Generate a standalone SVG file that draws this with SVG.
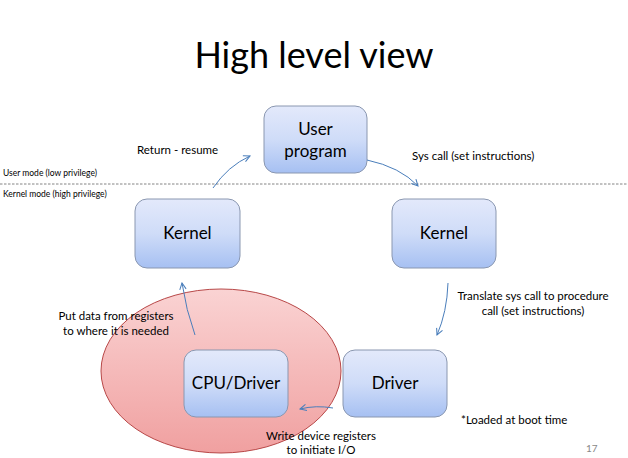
<svg xmlns="http://www.w3.org/2000/svg" width="628" height="458" viewBox="0 0 628 458">
<defs>
<linearGradient id="bx" x1="0" y1="0" x2="0" y2="1"><stop offset="0" stop-color="#e3e9fb"/><stop offset="0.5" stop-color="#cfdcf8"/><stop offset="1" stop-color="#a6c0f2"/></linearGradient>
<linearGradient id="el" x1="0" y1="0" x2="0" y2="1"><stop offset="0" stop-color="#fad3d3"/><stop offset="1" stop-color="#f0a0a0"/></linearGradient>
<marker id="ah" viewBox="0 0 10 10" refX="9" refY="5" markerWidth="8" markerHeight="8" orient="auto" markerUnits="userSpaceOnUse"><path d="M1,1 L9,5 L1,9" fill="none" stroke="#4a7ebb" stroke-width="1.3"/></marker>
</defs>
<style>
.box{fill:url(#bx);stroke:#8a97b0;stroke-width:1}
.t{font-family:Lato,"Open Sans",sans-serif;fill:#000}
.nl{font-size:17px;text-anchor:middle}
.lb{font-size:11.5px}
.sm{font-size:8.5px}
.cn{fill:none;stroke:#4a7ebb;stroke-width:1;marker-end:url(#ah)}
</style>
<rect width="628" height="458" fill="#fff"/>
<text class="t" x="314" y="68" font-size="36" text-anchor="middle">High level view</text>
<line x1="0" y1="184" x2="628" y2="184" stroke="#666" stroke-width="0.8" stroke-dasharray="2.5,1.5"/>
<text class="t sm" x="3" y="176">User mode (low privilege)</text>
<text class="t sm" x="3" y="197">Kernel mode (high privilege)</text>
<g id="ellipse"><ellipse cx="221" cy="371" rx="120" ry="82" fill="url(#el)" stroke="#b84848" stroke-width="1"/></g>
<g id="user-program"><rect class="box" x="264" y="106" width="103" height="67" rx="12"/><text class="t nl" x="315.5" y="135">User</text><text class="t nl" x="315.5" y="157">program</text></g>
<g id="kernel-left"><rect class="box" x="135" y="199" width="105" height="69" rx="12"/><text class="t nl" x="187.5" y="239">Kernel</text></g>
<g id="kernel-right"><rect class="box" x="392" y="199" width="104" height="69" rx="12"/><text class="t nl" x="444" y="239">Kernel</text></g>
<g id="driver"><rect class="box" x="343" y="350" width="104" height="67" rx="12"/><text class="t nl" x="395" y="389">Driver</text></g>
<g id="cpu-driver"><rect class="box" x="184" y="350" width="104" height="67" rx="12"/><text class="t nl" x="236" y="389">CPU/Driver</text></g>
<g id="connectors">
<path class="cn" d="M213,188 Q228,166 250,156"/>
<path class="cn" d="M367,160 Q400,167 418,186"/>
<path class="cn" d="M448,283 Q447,312 437,335"/>
<path class="cn" d="M333,408 Q316,405 300,409"/>
<path class="cn" d="M195,335 Q186,310 182,283"/>
</g>
<text class="t lb" x="137" y="154">Return - resume</text>
<text class="t lb" x="412" y="160">Sys call (set instructions)</text>
<text class="t lb" x="533" y="300" text-anchor="middle">Translate sys call to procedure</text>
<text class="t lb" x="533" y="315" text-anchor="middle">call (set instructions)</text>
<text class="t lb" x="116" y="320" text-anchor="middle">Put data from registers</text>
<text class="t lb" x="116" y="335" text-anchor="middle">to where it is needed</text>
<text class="t lb" x="321" y="440" text-anchor="middle">Write device registers</text>
<text class="t lb" x="321" y="454" text-anchor="middle">to initiate I/O</text>
<text class="t lb" x="461" y="424">*Loaded at boot time</text>
<text class="t" x="586" y="452" font-size="10" style="fill:#888">17</text>
</svg>
